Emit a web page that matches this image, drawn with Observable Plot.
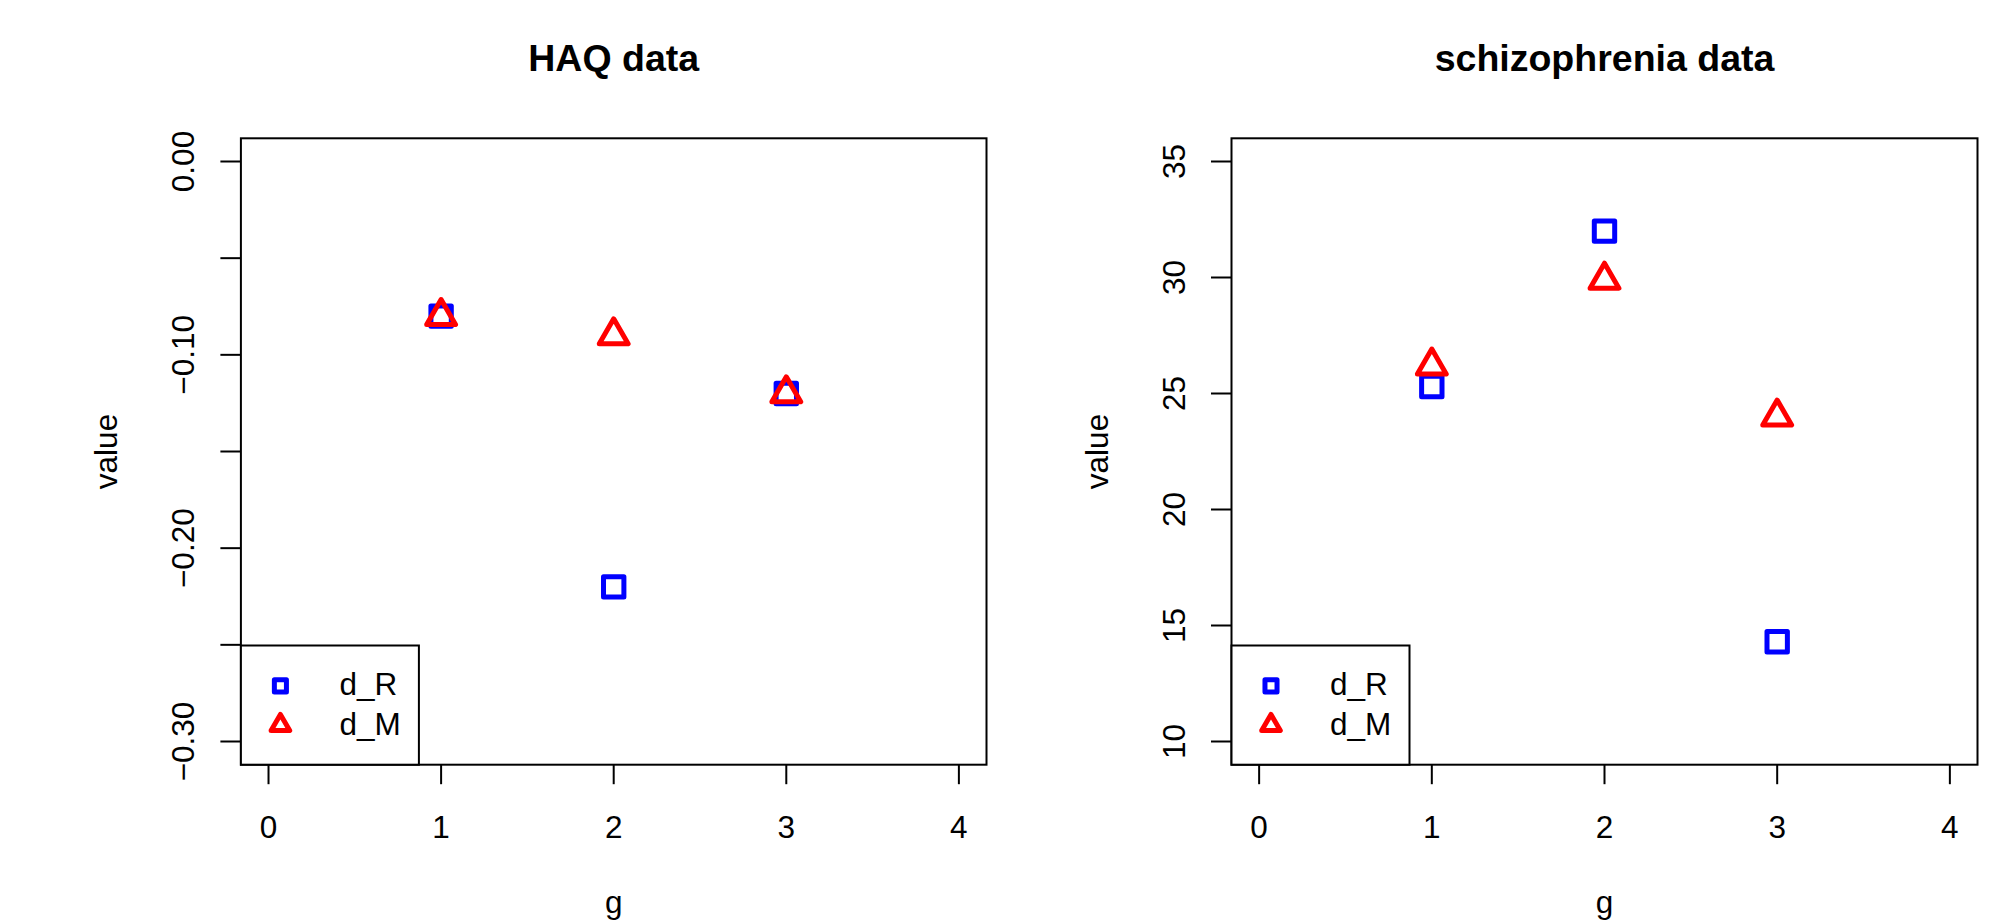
<!DOCTYPE html>
<html><head><meta charset="utf-8">
<script src="https://cdn.jsdelivr.net/npm/d3@7"></script>
<script src="https://cdn.jsdelivr.net/npm/@observablehq/plot@0.6"></script>
<style>
html,body{margin:0;padding:0;background:#fff;}
#wrap{display:flex;width:2011px;height:921px;overflow:hidden;background:#fff;}
#wrap svg{display:block;flex:none;}
</style></head><body><div id="wrap"></div>
<script>
// ---- data ----
const groups = [1, 2, 3];
const seriesNames = ["d_R", "d_M"];
const xTicks = [0, 1, 2, 3, 4];
const xLabel = "g";
const yLabel = "value";

const haqTitle = "HAQ data";
const haqR = [-0.08, -0.22, -0.12];
const haqM = [-0.08, -0.09, -0.12];
const haqYDomain = [-0.3, 0];
const haqYTicks = [-0.30, -0.25, -0.20, -0.15, -0.10, -0.05, 0.00];
const haqYLabels = [-0.30, -0.20, -0.10, 0.00];

const schTitle = "schizophrenia data";
const schR = [25.3, 32.0, 14.3];
const schM = [26.2, 29.9, 24.0];
const schYDomain = [10, 35];
const schYTicks = [10, 15, 20, 25, 30, 35];
const schYLabels = [10, 15, 20, 25, 30, 35];

// ---- drawing ----
const HEIGHT = 921, MT = 137.8, MB = 156.8;
const FONT = "'Liberation Sans', Arial, Helvetica, sans-serif";
const BLUE = "#0000ff", RED = "#ff0000";
const FS = 31.5, TFS = 37.5;

function extend([a, b]) { const e = (b - a) * 0.04; return [a - e, b + e]; }

function panel({title, R, M, yDomain, yTicks, yLabels, fmt, width, marginLeft, marginRight}) {
  const rows = (vals, s) => groups.map((g, i) => ({g, value: vals[i], series: s}));
  const FW = width - marginLeft - marginRight;
  return Plot.plot({
    width, height: HEIGHT,
    marginLeft, marginRight, marginTop: MT, marginBottom: MB,
    style: {fontFamily: FONT, fontSize: FS + "px", background: "#fff", overflow: "visible"},
    x: {domain: extend([0, 4])},
    y: {domain: extend(yDomain)},
    marks: [
      Plot.frame({stroke: "black", strokeWidth: 2}),
      Plot.axisX({ticks: xTicks, tickSize: 20, tickFormat: () => "", label: null, strokeWidth: 2}),
      Plot.axisY({ticks: yTicks, tickSize: 20, tickFormat: () => "", label: null, strokeWidth: 2}),
      Plot.text(xTicks, {x: d => d, text: d => String(d), frameAnchor: "bottom", dy: 73.4,
        lineAnchor: "bottom", fontSize: FS, fill: "black"}),
      Plot.text(yLabels, {y: d => d, text: fmt, frameAnchor: "left", dx: -46.7, rotate: -90,
        textAnchor: "middle", lineAnchor: "bottom", fontSize: FS, fill: "black"}),
      Plot.text([title], {frameAnchor: "top", dy: -67.8, lineAnchor: "bottom",
        fontSize: TFS, fontWeight: "bold", fill: "black"}),
      Plot.text([xLabel], {frameAnchor: "bottom", dy: 148, lineAnchor: "bottom", fontSize: FS, fill: "black"}),
      Plot.text([yLabel], {frameAnchor: "left", dx: -123.5, rotate: -90, textAnchor: "middle",
        lineAnchor: "bottom", fontSize: FS, fill: "black"}),
      Plot.dot(rows(R, seriesNames[0]), {x: "g", y: "value", symbol: "square", r: 11.5,
        stroke: BLUE, strokeWidth: 5, fill: "none", strokeLinejoin: "round"}),
      Plot.dot(rows(M, seriesNames[1]), {x: "g", y: "value", symbol: "triangle", r: 10.7,
        stroke: RED, strokeWidth: 5, fill: "none", strokeLinejoin: "round"}),
      // legend (bottom-left)
      Plot.frame({insetTop: 645 - MT, insetRight: FW - 178, stroke: "black", strokeWidth: 2, fill: "white"}),
      Plot.dot([seriesNames[0]], {frameAnchor: "bottom-left", dx: 39.5, dy: -78.8, symbol: "square", r: 6.8,
        stroke: BLUE, strokeWidth: 5, fill: "none", strokeLinejoin: "round"}),
      Plot.dot([seriesNames[1]], {frameAnchor: "bottom-left", dx: 39.5, dy: -39.5, symbol: "triangle", r: 6.9,
        stroke: RED, strokeWidth: 5, fill: "none", strokeLinejoin: "round"}),
      Plot.text([seriesNames[0]], {frameAnchor: "bottom-left", dx: 98.5, dy: -69.7, textAnchor: "start",
        lineAnchor: "bottom", fontSize: FS, fill: "black"}),
      Plot.text([seriesNames[1]], {frameAnchor: "bottom-left", dx: 98.5, dy: -29.7, textAnchor: "start",
        lineAnchor: "bottom", fontSize: FS, fill: "black"})
    ]
  });
}

const fmtHaq = d => (d < 0 ? "\u2212" : "") + Math.abs(d).toFixed(2);
const fmtSch = d => String(d);

const wrap = document.getElementById("wrap");
wrap.appendChild(panel({title: haqTitle, R: haqR, M: haqM, yDomain: haqYDomain, yTicks: haqYTicks,
  yLabels: haqYLabels, fmt: fmtHaq, width: 1000, marginLeft: 240.4, marginRight: 14}));
wrap.appendChild(panel({title: schTitle, R: schR, M: schM, yDomain: schYDomain, yTicks: schYTicks,
  yLabels: schYLabels, fmt: fmtSch, width: 1011, marginLeft: 231, marginRight: 34}));
</script></body></html>
